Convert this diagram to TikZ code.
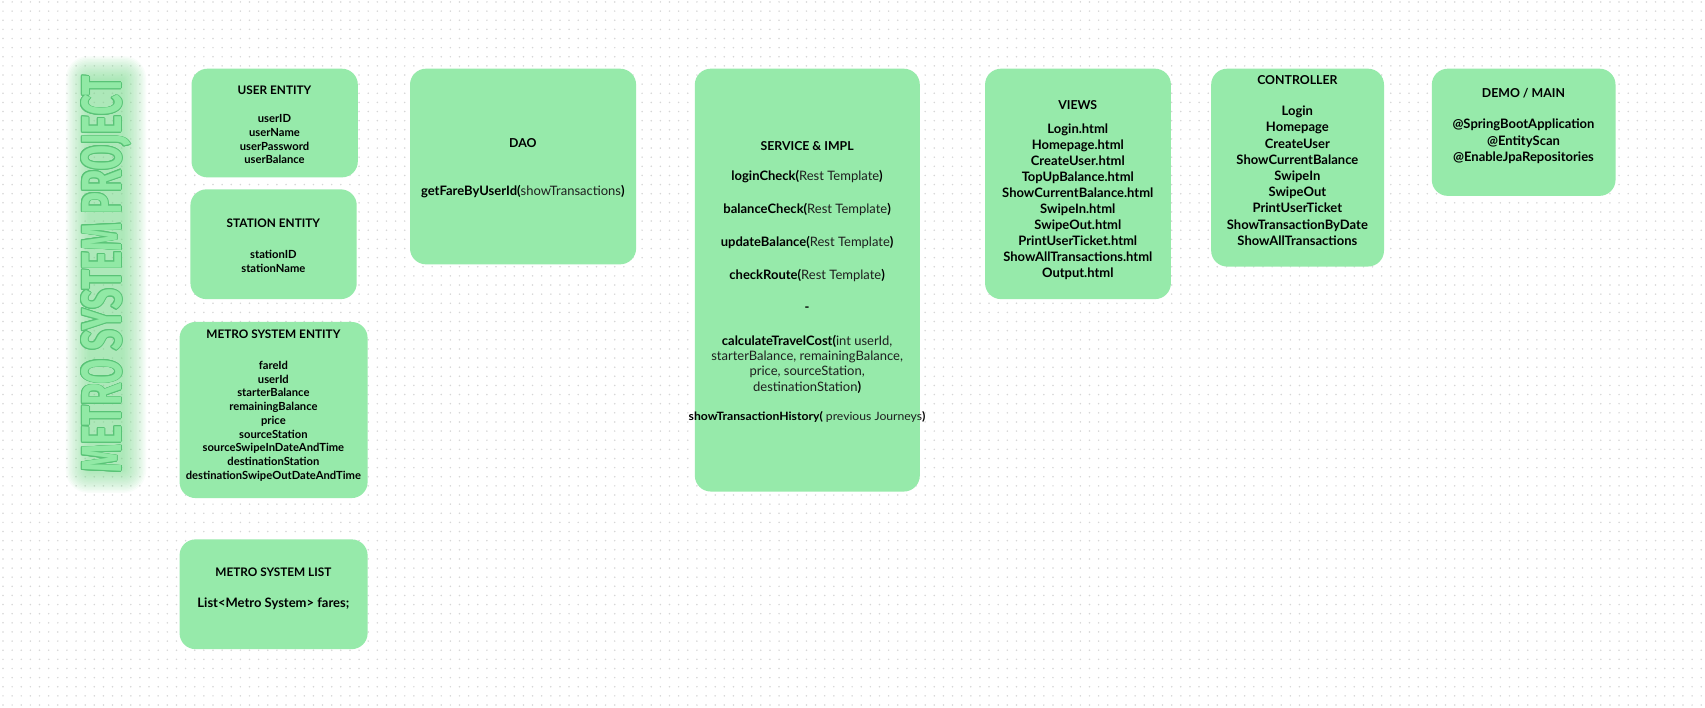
\documentclass[tikz,border=0pt]{standalone}
\usepackage{fontspec}
\setmainfont{Lato}
\newfontfamily\titlefont{Fira Sans}
\usetikzlibrary{patterns.meta,calc}
\definecolor{boxg}{RGB}{150,234,170}
\definecolor{ttlfill}{RGB}{145,233,165}
\definecolor{ttledge}{RGB}{88,195,118}
\definecolor{glowc}{RGB}{120,222,140}
\definecolor{dotc}{RGB}{214,214,214}
\definecolor{regc}{RGB}{30,30,30}
\newcommand{\mtitle}{\resizebox{397pt}{40pt}{\titlefont\bfseries METRO SYSTEM PROJECT}}
\newcommand{\rg}[1]{{\mdseries\color{regc}#1}}
\def\k{1.087}
\begin{document}
\begin{tikzpicture}[x=1.087pt,y=-1.087pt,
  box/.style={rounded corners=16pt, fill=boxg, draw=none, inner sep=0pt, anchor=north west},
  ttl/.style={font=\bfseries\fontsize{12.3}{14}\selectfont, anchor=base, inner sep=0pt},
  ettl/.style={font=\bfseries\fontsize{11.8}{14}\selectfont, anchor=base, inner sep=0pt},
  fld/.style={font=\bfseries\fontsize{11.2}{13}\selectfont, anchor=base, inner sep=0pt},
  itm/.style={font=\bfseries\fontsize{13}{15}\selectfont, anchor=base, inner sep=0pt},
  sml/.style={font=\bfseries\fontsize{11.5}{13}\selectfont, anchor=base, inner sep=0pt}]
\useasboundingbox (0,0) rectangle (1568.5,650.4);
\fill[white] (0,0) rectangle (1568.5,650.4);
\fill[pattern={Dots[distance=9.13pt, radius=0.85pt, xshift=3pt, yshift=2pt]}, pattern color=dotc] (0,0) rectangle (1568.5,650.4);

% title with glow
\foreach \g in {1,2,...,16}
  \fill[glowc, opacity=0.05, rounded corners={1.4*\g}] ({83-1.4*\g},{74-1.4*\g}) rectangle ({112+1.4*\g},{431+1.4*\g});
\foreach \a in {0,30,...,330}
  \node[inner sep=0pt, rotate=90, text=ttledge] at ($(97.5,252.5)+(\a:0.8)$) {\mtitle};
\node[inner sep=0pt, rotate=90, text=ttlfill] (title) at (97.5,252.5) {\mtitle};

% boxes
\node[box, minimum width={\k*153pt}, minimum height={\k*100pt}] (user) at (176,63) {};
\node[box, minimum width={\k*153pt}, minimum height={\k*101pt}] (station) at (175,174) {};
\node[box, minimum width={\k*173pt}, minimum height={\k*162pt}] (metro) at (165,296) {};
\node[box, minimum width={\k*173pt}, minimum height={\k*101pt}] (list) at (165,496) {};
\node[box, minimum width={\k*208pt}, minimum height={\k*180pt}] (dao) at (377,63) {};
\node[box, minimum width={\k*207pt}, minimum height={\k*389pt}] (service) at (639,63) {};
\node[box, minimum width={\k*171pt}, minimum height={\k*212pt}] (views) at (906,63) {};
\node[box, minimum width={\k*159pt}, minimum height={\k*182pt}] (ctrl) at (1114,63) {};
\node[box, minimum width={\k*169pt}, minimum height={\k*117pt}] (demo) at (1317,63) {};

% user entity
\node[ettl] (userT) at (252.5,86.5) {USER ENTITY};
\foreach \t [count=\i] in {userID,userName,userPassword,userBalance}
  \node[fld] (userF\i) at (252.5,{113+12.6*(\i-1)}) {\t};

% station entity
\node[ettl] (stationT) at (251.5,209.5) {STATION ENTITY};
\foreach \t [count=\i] in {stationID,stationName}
  \node[fld] (stationF\i) at (251.5,{238+12.6*(\i-1)}) {\t};

% metro system entity
\node[ettl] (metroT) at (251.5,311.5) {METRO SYSTEM ENTITY};
\foreach \t [count=\i] in {fareId,userId,starterBalance,remainingBalance,price,sourceStation,sourceSwipeInDateAndTime,destinationStation,destinationSwipeOutDateAndTime}
  \node[fld] (metroF\i) at (251.5,{340+12.6*(\i-1)}) {\t};

% metro system list
\node[ettl] (listT) at (251.5,530.5) {METRO SYSTEM LIST};
\node[itm] (listF) at (251.5,559) {List<Metro System> fares;};

% dao
\node[ttl] (daoT) at (481,135.5) {DAO};
\node[itm] (daoF) at (481,180) {getFareByUserId(\rg{showTransactions})};

% service
\node[ttl] (serviceT) at (742.5,138.5) {SERVICE \& IMPL};
\node[itm] (svc1) at (742.5,166.5) {loginCheck(\rg{Rest Template})};
\node[itm] (svc2) at (742.5,196.5) {balanceCheck(\rg{Rest Template})};
\node[itm] (svc3) at (742.5,226.5) {updateBalance(\rg{Rest Template})};
\node[itm] (svc4) at (742.5,257.5) {checkRoute(\rg{Rest Template})};
\node[itm] (svc5) at (742.5,287) {-};
\node[itm] (svc6) at (742.5,317.5) {calculateTravelCost(\rg{int userId,}};
\node[itm] (svc7) at (742.5,331.5) {\rg{starterBalance, remainingBalance,}};
\node[itm] (svc8) at (742.5,345.5) {\rg{price, sourceStation,}};
\node[itm] (svc9) at (742.5,360) {\rg{destinationStation})};
\node[sml] (svc10) at (742.5,387) {\scalebox{1.06}[1]{showTransactionHistory(\rg{\ previous Journeys})}};

% views
\node[ttl] (viewsT) at (991.5,100.5) {VIEWS};
\foreach \t [count=\i] in {Login.html,Homepage.html,CreateUser.html,TopUpBalance.html,ShowCurrentBalance.html,SwipeIn.html,SwipeOut.html,PrintUserTicket.html,ShowAllTransactions.html,Output.html}
  \node[itm] (viewsF\i) at (991.5,{122.5+14.8*(\i-1)}) {\t};

% controller
\node[ttl] (ctrlT) at (1193.5,77.5) {CONTROLLER};
\foreach \t [count=\i] in {Login,Homepage,CreateUser,ShowCurrentBalance,SwipeIn,SwipeOut,PrintUserTicket,ShowTransactionByDate,ShowAllTransactions}
  \node[itm] (ctrlF\i) at (1193.5,{106.5+14.9*(\i-1)}) {\t};

% demo / main
\node[ttl] (demoT) at (1401.5,89.5) {DEMO / MAIN};
\foreach \t [count=\i] in {@SpringBootApplication,@EntityScan,@EnableJpaRepositories}
  \node[itm] (demoF\i) at (1401.5,{118.5+15*(\i-1)}) {\t};
\end{tikzpicture}
\end{document}
